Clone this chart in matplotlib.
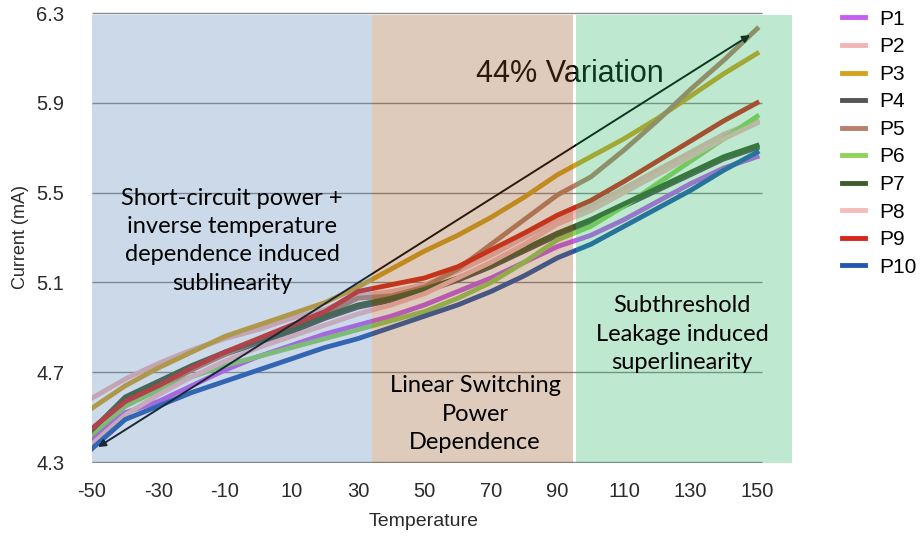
import matplotlib
matplotlib.use('Agg')
import matplotlib.pyplot as plt
import numpy as np

temps = list(range(-50, 151, 10))

p1 = [4.40, 4.52, 4.57, 4.64, 4.71, 4.77, 4.82, 4.87, 4.91, 4.95, 5.00,
      5.06, 5.12, 5.19, 5.26, 5.31, 5.38, 5.46, 5.54, 5.61, 5.66]
p2 = [4.585, 4.67, 4.74, 4.80, 4.85, 4.89, 4.94, 4.98, 5.04, 5.06, 5.09,
      5.15, 5.22, 5.30, 5.38, 5.44, 5.52, 5.60, 5.68, 5.76, 5.82]
p3 = [4.54, 4.64, 4.72, 4.79, 4.86, 4.91, 4.96, 5.01, 5.08, 5.16, 5.24,
      5.31, 5.39, 5.48, 5.58, 5.66, 5.74, 5.83, 5.93, 6.03, 6.12]
p4 = [4.44, 4.58, 4.65, 4.72, 4.78, 4.83, 4.88, 4.94, 4.99, 5.02, 5.06,
      5.11, 5.17, 5.24, 5.31, 5.37, 5.44, 5.51, 5.58, 5.65, 5.70]
p5 = [4.42, 4.55, 4.63, 4.71, 4.78, 4.84, 4.90, 4.96, 5.03, 5.04, 5.08,
      5.16, 5.27, 5.38, 5.49, 5.57, 5.69, 5.82, 5.96, 6.09, 6.23]
p6 = [4.425, 4.55, 4.62, 4.68, 4.73, 4.77, 4.81, 4.85, 4.89, 4.93, 4.97,
      5.03, 5.10, 5.19, 5.29, 5.35, 5.44, 5.54, 5.64, 5.74, 5.84]
p7 = [4.443, 4.59, 4.66, 4.73, 4.79, 4.84, 4.89, 4.95, 5.00, 5.03, 5.07,
      5.12, 5.18, 5.25, 5.32, 5.38, 5.45, 5.52, 5.59, 5.66, 5.71]
p8 = [4.38, 4.51, 4.60, 4.68, 4.75, 4.81, 4.86, 4.91, 4.96, 5.00, 5.05,
      5.12, 5.19, 5.27, 5.36, 5.42, 5.50, 5.58, 5.66, 5.74, 5.81]
p9 = [4.45, 4.57, 4.64, 4.72, 4.79, 4.85, 4.91, 4.97, 5.06, 5.09, 5.12,
      5.17, 5.245, 5.32, 5.40, 5.465, 5.55, 5.64, 5.73, 5.82, 5.90]
p10 = [4.36, 4.49, 4.55, 4.61, 4.66, 4.71, 4.76, 4.81, 4.85, 4.90, 4.95,
       5.00, 5.06, 5.13, 5.21, 5.27, 5.35, 5.43, 5.51, 5.60, 5.68]

series = [p1, p2, p3, p4, p5, p6, p7, p8, p9, p10]
names = ['P1', 'P2', 'P3', 'P4', 'P5', 'P6', 'P7', 'P8', 'P9', 'P10']
colors = ['#c65df2', '#f2b5b5', '#d4a21e', '#555555', '#b8806a',
          '#8ed35c', '#3d5e2c', '#f5bcbc', '#d8261a', '#2358b0']

x_ticks = list(range(-50, 151, 20))
y_ticks = [4.3, 4.7, 5.1, 5.5, 5.9, 6.3]

fig = plt.figure(figsize=(9.22, 5.40), dpi=100)
ax = fig.add_axes([92 / 922, 77 / 540, 700 / 922, 452 / 540])
ax.set_xlim(-50, 160.5)
ax.set_ylim(4.296, 6.309)

# horizontal grid, stops just past the last tick
ax.hlines(y_ticks, -50, 151.5, color='#8a8a8a', lw=1, zorder=1)

handles = []
for vals, name, c in zip(series, names, colors):
    h, = ax.plot(temps, vals, color=c, lw=3.5, label=name, zorder=2)
    handles.append(h)

ax.annotate('', xy=(147.9, 6.202), xytext=(-48.2, 4.367),
            arrowprops=dict(arrowstyle='<|-|>', color='black', lw=1.4,
                            mutation_scale=11, shrinkA=0, shrinkB=0),
            zorder=3)
ax.text(93.8, 6.03, '44% Variation', ha='center', va='center',
        fontsize=22, family='Liberation Sans', color='black', zorder=3)

# translucent region shading laid over the curves
top = (6.291 - 4.296) / (6.309 - 4.296)
ax.axvspan(-50, 34.2, ymax=top, color=(88 / 255, 132 / 255, 185 / 255),
           alpha=0.3, lw=0, zorder=4)
ax.axvspan(34.2, 94.6, ymax=top, color=(152 / 255, 85 / 255, 32 / 255),
           alpha=0.3, lw=0, zorder=4)
ax.axvspan(95.6, 160.5, ymax=top, color=(45 / 255, 182 / 255, 105 / 255),
           alpha=0.3, lw=0, zorder=4)

lbl = dict(ha='center', va='center', fontsize=17, family='Lato',
           color='black', linespacing=1.42, zorder=5)
ax.text(-7.9, 5.285, 'Short-circuit power +\ninverse temperature\n'
        'dependence induced\nsublinearity', **lbl)
ax.text(65.2, 4.514, 'Linear Switching\nPower\nDependence', **lbl)
ax.text(127.4, 4.87, 'Subthreshold\nLeakage induced\nsuperlinearity', **lbl)

ax.set_xticks(x_ticks)
ax.set_yticks(y_ticks)
ax.set_xticklabels([str(t) for t in x_ticks])
ax.set_yticklabels([f'{t:.1f}' for t in y_ticks])
ax.tick_params(length=0, labelsize=14.5, colors='#2a2a2a')
ax.tick_params(axis='x', pad=14)
ax.tick_params(axis='y', pad=20)
for lab in ax.get_xticklabels() + ax.get_yticklabels():
    lab.set_family('Liberation Sans')
for s in ax.spines.values():
    s.set_visible(False)

ax.set_xlabel('Temperature', fontsize=14, family='Liberation Sans',
              color='#2a2a2a')
ax.xaxis.set_label_coords(0.474, -0.11)
ax.set_ylabel('Current (mA)', fontsize=13, family='Liberation Sans',
              color='#2a2a2a')
ax.yaxis.set_label_coords(-0.09, 0.5)

fig.legend(handles=handles, loc='upper left', bbox_to_anchor=(0.913, 0.982),
           frameon=False, handlelength=1.1, handletextpad=0.72,
           labelspacing=0.41, borderaxespad=0, borderpad=0,
           prop={'family': 'Liberation Sans', 'size': 15})

fig.savefig('out.png', dpi=100)
